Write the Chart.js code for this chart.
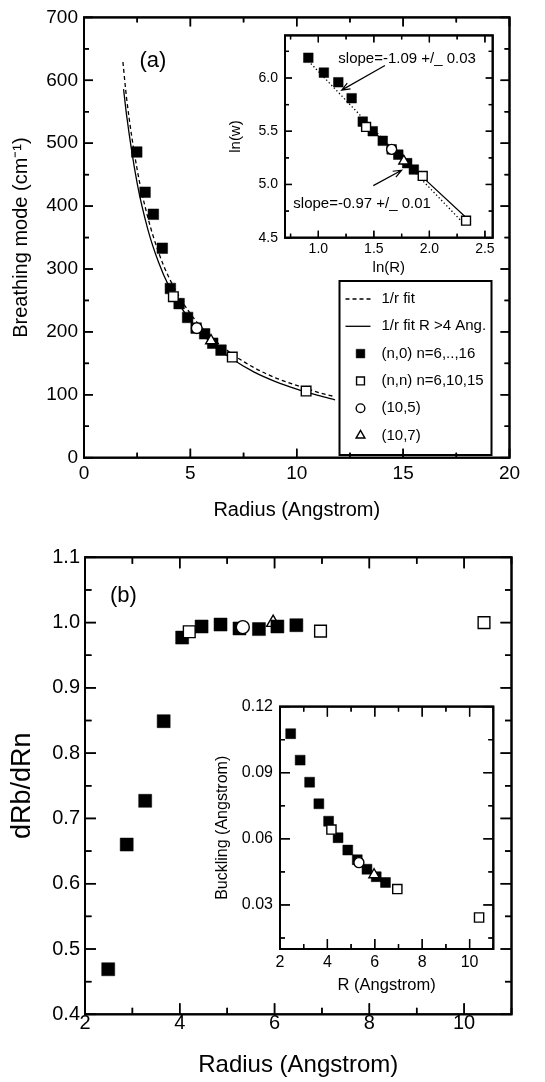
<!DOCTYPE html>
<html>
<head>
<meta charset="utf-8">
<script src="https://cdn.jsdelivr.net/npm/chart.js@4.4.0/dist/chart.umd.min.js"></script>
<style>
  html, body { margin: 0; padding: 0; background: #fff; }
  #page { position: relative; width: 545px; height: 1082px; overflow: hidden; }
  #page canvas { position: absolute; }
</style>
</head>
<body>
<div id="page">
  <canvas id="mainA" width="545" height="530" style="left:0;top:0"></canvas>
  <canvas id="insetA" width="320" height="270" style="left:200px;top:20px"></canvas>
  <canvas id="mainB" width="545" height="542" style="left:0;top:540px"></canvas>
  <canvas id="insetB" width="320" height="320" style="left:200px;top:690px"></canvas>
</div>
<script>
// ---- panel (a): breathing mode vs radius ----
const aZigR = [2.48, 2.87, 3.26, 3.68, 4.06, 4.47, 4.87, 5.27, 5.67, 6.05, 6.44];
const aZigW = [486, 422, 387, 333, 269, 245, 223, 206, 197, 182, 171];
const aArmR = [4.2, 6.97, 10.44];
const aArmW = [256, 160, 106];
const aC105R = [5.3];
const aC105W = [206];
const aC107R = [5.97];
const aC107W = [186];
// fit curves
const fitAllR = [1.83, 2.0, 2.5, 3.0, 3.5, 4.0, 5.0, 6.0, 7.0, 8.0, 9.0, 10.0, 11.0, 11.8];
const fitAllW = [629, 572, 458, 382, 327, 286, 229, 191, 164, 143, 127, 115, 104, 97];
const fitBigR = [1.86, 2.0, 2.5, 3.0, 3.5, 4.0, 5.0, 6.0, 7.0, 8.0, 9.0, 10.0, 11.0, 11.8];
const fitBigW = [586, 545, 436, 363, 311, 272, 218, 182, 156, 136, 121, 109, 99, 92];

// inset (a): ln(w) vs ln(R)
const lnZigR = [0.91, 1.05, 1.18, 1.30, 1.40, 1.49, 1.58, 1.66, 1.72, 1.80, 1.86];
const lnZigW = [6.19, 6.05, 5.96, 5.81, 5.59, 5.50, 5.41, 5.33, 5.28, 5.20, 5.14];
const lnArmR = [1.43, 1.94, 2.33];
const lnArmW = [5.54, 5.08, 4.66];
const lnC105R = [1.66];
const lnC105W = [5.33];
const lnC107R = [1.77];
const lnC107W = [5.22];
const lnFitAllR = [0.91, 2.33];
const lnFitAllW = [6.16, 4.61];
const lnFitBigR = [1.40, 2.33];
const lnFitBigW = [5.59, 4.69];

// ---- panel (b): dRb/dRn vs radius ----
const bZigR = [2.49, 2.88, 3.27, 3.66, 4.05, 4.46, 4.86, 5.26, 5.67, 6.06, 6.46];
const bZigV = [0.469, 0.660, 0.727, 0.849, 0.977, 0.994, 0.997, 0.991, 0.990, 0.994, 0.996];
const bArmR = [4.2, 6.97, 10.42];
const bArmV = [0.986, 0.987, 1.000];
const bC105R = [5.33];
const bC105V = [0.993];
const bC107R = [5.97];
const bC107V = [1.000];

// inset (b): buckling vs R
const bkZigR = [2.45, 2.85, 3.25, 3.64, 4.05, 4.45, 4.86, 5.26, 5.67, 6.06, 6.45];
const bkZigV = [0.1077, 0.0957, 0.0857, 0.0759, 0.0680, 0.0605, 0.0549, 0.0505, 0.0462, 0.0428, 0.0402];
const bkArmR = [4.17, 6.95, 10.4];
const bkArmV = [0.0642, 0.0372, 0.0243];
const bkC105R = [5.33];
const bkC105V = [0.0492];
const bkC107R = [5.97];
const bkC107V = [0.0437];

const FONT = "'Liberation Sans', Arial, Helvetica, sans-serif";
Chart.defaults.font.family = FONT;
Chart.defaults.color = '#000';

const pts = (xs, ys) => xs.map((x, i) => ({ x: x, y: ys[i] }));

function lineSet(label, xs, ys, dash, width) {
    return { label: label, data: pts(xs, ys), showLine: true, borderColor: '#000', borderWidth: width,
             borderDash: dash, pointRadius: 0, fill: false, cubicInterpolationMode: 'monotone', order: 10 };
}

function markSet(label, xs, ys, style, r, filled, order) {
    return { label: label, data: pts(xs, ys), showLine: false, pointStyle: style, pointRadius: r,
             pointHoverRadius: r, pointBackgroundColor: filled ? '#000' : '#fff', pointBorderColor: '#000',
             pointBorderWidth: filled ? 0.5 : 1.4, order: order };
}

function stepValues(min, max, step) {
    const out = [];
    const a = Math.round(Math.ceil(min / step - 1e-6)), b = Math.round(Math.floor(max / step + 1e-6));
    for (let k = a; k <= b; k++) out.push(k * step);
    return out;
}

// inward ticks on all four sides + frame, drawn last
function framePlugin(name, cfg) {
    const draw = (chart) => {
        const area = chart.chartArea, ctx = chart.ctx;
        const xs = chart.scales.x, ys = chart.scales.y;
        const w = cfg.tickWidth;
        const isMajor = (v, step) => Math.abs(v / step - Math.round(v / step)) < 1e-6;
        const xPix = (v) => {
            const p = xs.getPixelForValue(v);
            return isFinite(p) ? p : area.left + (v - cfg.x[0]) / (cfg.x[1] - cfg.x[0]) * (area.right - area.left);
        };
        const yPix = (v) => {
            const p = ys.getPixelForValue(v);
            return isFinite(p) ? p : area.bottom - (v - cfg.y[0]) / (cfg.y[1] - cfg.y[0]) * (area.bottom - area.top);
        };
        ctx.save();
        ctx.setLineDash([]);
        ctx.globalAlpha = 1;
        ctx.globalCompositeOperation = 'source-over';
        ctx.fillStyle = '#000';
        stepValues(cfg.x[0], cfg.x[1], cfg.xMinor).forEach((v) => {
            const p = xPix(v);
            const len = isMajor(v, cfg.xMajor) ? cfg.bigLen : cfg.smallLen;
            ctx.fillRect(p - w / 2, area.bottom - len, w, len);
            ctx.fillRect(p - w / 2, area.top, w, len);
        });
        stepValues(cfg.y[0], cfg.y[1], cfg.yMinor).forEach((v) => {
            const p = yPix(v);
            const len = isMajor(v, cfg.yMajor) ? cfg.bigLen : cfg.smallLen;
            ctx.fillRect(area.left, p - w / 2, len, w);
            ctx.fillRect(area.right - len, p - w / 2, len, w);
        });
        ctx.strokeStyle = '#000';
        ctx.lineWidth = cfg.frameWidth;
        ctx.strokeRect(area.left, area.top, area.right - area.left, area.bottom - area.top);
        ctx.restore();
    };
    return {
        id: 'frame_' + name,
        beforeDraw(chart) {
            if (!cfg.whiteBack) return;
            const area = chart.chartArea, ctx = chart.ctx;
            ctx.save();
            ctx.fillStyle = '#fff';
            ctx.fillRect(area.left, area.top, area.right - area.left, area.bottom - area.top);
            ctx.restore();
        },
        afterDatasetsDraw: draw,
        afterDraw: draw
    };
}

// texts and arrows placed in data units
function notesPlugin(name, cfg) {
    return {
        id: 'notes_' + name,
        afterDatasetsDraw(chart) {
            const ctx = chart.ctx, xs = chart.scales.x, ys = chart.scales.y;
            ctx.save();
            ctx.fillStyle = '#000';
            ctx.strokeStyle = '#000';
            ctx.textBaseline = 'middle';
            (cfg.texts || []).forEach(t => {
                ctx.font = t.size + 'px ' + FONT;
                ctx.textAlign = t.align || 'left';
                ctx.fillText(t.text, xs.getPixelForValue(t.x), ys.getPixelForValue(t.y));
            });
            (cfg.arrows || []).forEach(ar => {
                const x1 = xs.getPixelForValue(ar.x1), y1 = ys.getPixelForValue(ar.y1);
                const x2 = xs.getPixelForValue(ar.x2), y2 = ys.getPixelForValue(ar.y2);
                const ang = Math.atan2(y2 - y1, x2 - x1), h = 9, spread = 0.38;
                ctx.lineWidth = 1.2;
                ctx.beginPath();
                ctx.moveTo(x1, y1); ctx.lineTo(x2, y2);
                ctx.moveTo(x2 - h * Math.cos(ang - spread), y2 - h * Math.sin(ang - spread));
                ctx.lineTo(x2, y2);
                ctx.lineTo(x2 - h * Math.cos(ang + spread), y2 - h * Math.sin(ang + spread));
                ctx.stroke();
            });
            ctx.restore();
        }
    };
}

// boxed legend inside the plot of panel (a)
function legendPlugin(name, cfg) {
    return {
        id: 'legend_' + name,
        afterDatasetsDraw(chart) {
            const ctx = chart.ctx;
            ctx.save();
            ctx.fillStyle = '#fff';
            ctx.fillRect(cfg.left, cfg.top, cfg.width, cfg.height);
            ctx.strokeStyle = '#000';
            ctx.lineWidth = 2;
            ctx.strokeRect(cfg.left, cfg.top, cfg.width, cfg.height);
            ctx.font = cfg.size + 'px ' + FONT;
            ctx.textBaseline = 'middle';
            ctx.textAlign = 'left';
            chart.data.datasets.forEach((ds, i) => {
                const y = cfg.top + cfg.firstRow + i * cfg.rowGap;
                if (ds.showLine) {
                    ctx.lineWidth = ds.borderWidth;
                    ctx.setLineDash(ds.borderDash || []);
                    ctx.beginPath();
                    ctx.moveTo(cfg.left + cfg.lineFrom, y);
                    ctx.lineTo(cfg.left + cfg.lineTo, y);
                    ctx.stroke();
                    ctx.setLineDash([]);
                } else {
                    ctx.fillStyle = ds.pointBackgroundColor;
                    ctx.strokeStyle = '#000';
                    ctx.lineWidth = ds.pointBorderWidth;
                    Chart.helpers.drawPoint(ctx, { pointStyle: ds.pointStyle, radius: ds.pointRadius * cfg.symbolScale,
                                                   borderWidth: ds.pointBorderWidth, rotation: 0 }, cfg.left + cfg.symbolX, y);
                }
                ctx.fillStyle = '#000';
                ctx.fillText(ds.label, cfg.left + cfg.textX, y);
            });
            ctx.setLineDash([]);
            ctx.restore();
        }
    };
}

// scale builder: the forced sizes pin the plot area where the figure has it
function scale(opt) {
    return {
        type: 'linear', position: opt.pos, min: opt.min, max: opt.max,
        grid: { display: false, drawTicks: false },
        border: { display: false },
        ticks: { stepSize: opt.step, includeBounds: false, autoSkip: false, maxRotation: 0, padding: opt.pad,
                 color: '#000', font: { size: opt.size }, callback: opt.fmt },
        title: { display: true, text: opt.title, color: '#000', font: { size: opt.titleSize, lineHeight: 1.2 }, padding: opt.titlePad },
        afterFit: (s) => { if (opt.pos === 'bottom') s.height = opt.band; else s.width = opt.band; }
    };
}

function baseOptions(layoutPad, xs, ys) {
    return { responsive: false, animation: false, events: [], devicePixelRatio: 1,
             layout: { padding: layoutPad }, scales: { x: xs, y: ys },
             plugins: { legend: { display: false }, tooltip: { enabled: false } } };
}

const fixed = (d) => (v) => v.toFixed(d);
const whole = (v) => String(Math.round(v));

// panel (a) main
new Chart(document.getElementById('mainA'), {
    type: 'scatter',
    data: { datasets: [
        lineSet('1/r fit', fitAllR, fitAllW, [4, 3], 1.3),
        lineSet('1/r fit R >4 Ang.', fitBigR, fitBigW, [], 1.3),
        markSet('(n,0) n=6,..,16', aZigR, aZigW, 'rect', 7.5, true, 3),
        markSet('(n,n) n=6,10,15', aArmR, aArmW, 'rect', 6.8, false, 2),
        markSet('(10,5)', aC105R, aC105W, 'circle', 5.3, false, 1),
        markSet('(10,7)', aC107R, aC107W, 'triangle', 6.2, false, 0)
    ] },
    options: baseOptions({ left: 0, top: 14.7, right: 35.5, bottom: 0 },
        scale({ pos: 'bottom', min: 0, max: 20, step: 5, pad: 5, size: 19, fmt: whole,
                title: 'Radius (Angstrom)', titleSize: 20, titlePad: { top: 0, bottom: 8 }, band: 72.3 }),
        scale({ pos: 'left', min: 0, max: 700, step: 100, pad: 6, size: 19, fmt: whole,
                title: 'Breathing mode (cm\u207B\u00B9)', titleSize: 20, titlePad: { top: 9, bottom: 0 }, band: 84 })),
    plugins: [
        notesPlugin('a', { texts: [{ text: '(a)', x: 3.24, y: 631, size: 22, align: 'center' }] }),
        legendPlugin('a', { left: 339.5, top: 281, width: 152, height: 174, size: 15,
                            firstRow: 18, rowGap: 27.3, lineFrom: 6, lineTo: 31, symbolX: 21, textX: 42, symbolScale: 0.82 }),
        framePlugin('a', { x: [0, 20], y: [0, 700], xMajor: 5, xMinor: 2.5, yMajor: 100, yMinor: 50,
                           bigLen: 9, smallLen: 5, tickWidth: 1.5, frameWidth: 2 })
    ]
});

// panel (a) inset
new Chart(document.getElementById('insetA'), {
    type: 'scatter',
    data: { datasets: [
        lineSet('all', lnFitAllR, lnFitAllW, [1.3, 2.4], 1.3),
        lineSet('R>4', lnFitBigR, lnFitBigW, [], 1.2),
        markSet('(n,0)', lnZigR, lnZigW, 'rect', 6.8, true, 3),
        markSet('(n,n)', lnArmR, lnArmW, 'rect', 6.3, false, 2),
        markSet('(10,5)', lnC105R, lnC105W, 'circle', 5, false, 1),
        markSet('(10,7)', lnC107R, lnC107W, 'triangle', 5.8, false, 0)
    ] },
    options: baseOptions({ left: 0, top: 12.7, right: 27.3, bottom: 0 },
        scale({ pos: 'bottom', min: 0.7, max: 2.57, step: 0.5, pad: 3, size: 14, fmt: fixed(1),
                title: 'ln(R)', titleSize: 15, titlePad: { top: 0, bottom: 12.7 }, band: 52.3 }),
        scale({ pos: 'left', min: 4.5, max: 6.4, step: 0.5, pad: 7, size: 14, fmt: fixed(1),
                title: 'ln(w)', titleSize: 15, titlePad: { top: 27, bottom: 0 }, band: 85 })),
    plugins: [
        notesPlugin('ai', {
            texts: [
                { text: 'slope=-1.09 +/_ 0.03', x: 1.18, y: 6.18, size: 15 },
                { text: 'slope=-0.97 +/_ 0.01', x: 0.775, y: 4.82, size: 15 }
            ],
            arrows: [
                { x1: 1.60, y1: 6.118, x2: 1.21, y2: 5.886 },
                { x1: 1.495, y1: 4.989, x2: 1.75, y2: 5.134 }
            ]
        }),
        framePlugin('ai', { whiteBack: true, x: [0.7, 2.57], y: [4.5, 6.4], xMajor: 0.5, xMinor: 0.25, yMajor: 0.5, yMinor: 0.25,
                            bigLen: 7, smallLen: 4, tickWidth: 1.3, frameWidth: 2 })
    ]
});

// panel (b) main
new Chart(document.getElementById('mainB'), {
    type: 'scatter',
    data: { datasets: [
        markSet('(n,0)', bZigR, bZigV, 'rect', 9.2, true, 3),
        markSet('(n,n)', bArmR, bArmV, 'rect', 8.3, false, 2),
        markSet('(10,5)', bC105R, bC105V, 'circle', 6.5, false, 1),
        markSet('(10,7)', bC107R, bC107V, 'triangle', 7.5, false, 4)
    ] },
    options: baseOptions({ left: 0, top: 17.3, right: 33.5, bottom: 0 },
        scale({ pos: 'bottom', min: 2, max: 11, step: 2, pad: -3, size: 20, fmt: whole,
                title: 'Radius (Angstrom)', titleSize: 24, titlePad: { top: 0, bottom: 2.6 }, band: 67.7 }),
        scale({ pos: 'left', min: 0.4, max: 1.1, step: 0.1, pad: 5, size: 20, fmt: fixed(1),
                title: 'dRb/dRn', titleSize: 27, titlePad: { top: 6.8, bottom: 0 }, band: 85 })),
    plugins: [
        notesPlugin('b', { texts: [{ text: '(b)', x: 2.81, y: 1.041, size: 22, align: 'center' }] }),
        framePlugin('b', { x: [2, 11], y: [0.4, 1.1], xMajor: 2, xMinor: 1, yMajor: 0.1, yMinor: 0.05,
                           bigLen: 11, smallLen: 6.5, tickWidth: 1.5, frameWidth: 2 })
    ]
});

// panel (b) inset
new Chart(document.getElementById('insetB'), {
    type: 'scatter',
    data: { datasets: [
        markSet('(n,0)', bkZigR, bkZigV, 'rect', 7, true, 3),
        markSet('(n,n)', bkArmR, bkArmV, 'rect', 6.5, false, 2),
        markSet('(10,5)', bkC105R, bkC105V, 'circle', 5, false, 1),
        markSet('(10,7)', bkC107R, bkC107V, 'triangle', 6, false, 0)
    ] },
    options: baseOptions({ left: 0, top: 11, right: 26.7, bottom: 0 },
        scale({ pos: 'bottom', min: 2, max: 11, step: 2, pad: 4, size: 16, fmt: whole,
                title: 'R (Angstrom)', titleSize: 16.5, titlePad: { top: 0, bottom: 15.1 }, band: 61 }),
        scale({ pos: 'left', min: 0.01, max: 0.12, step: 0.03, pad: 7, size: 16, fmt: fixed(2),
                title: 'Buckling (Angstrom)', titleSize: 16, titlePad: { top: 13.4, bottom: 0 }, band: 80 })),
    plugins: [
        framePlugin('bi', { whiteBack: true, x: [2, 11], y: [0.01, 0.12], xMajor: 2, xMinor: 1, yMajor: 0.03, yMinor: 0.015,
                            bigLen: 10, smallLen: 5, tickWidth: 1.3, frameWidth: 2 })
    ]
});
</script>
</body>
</html>
